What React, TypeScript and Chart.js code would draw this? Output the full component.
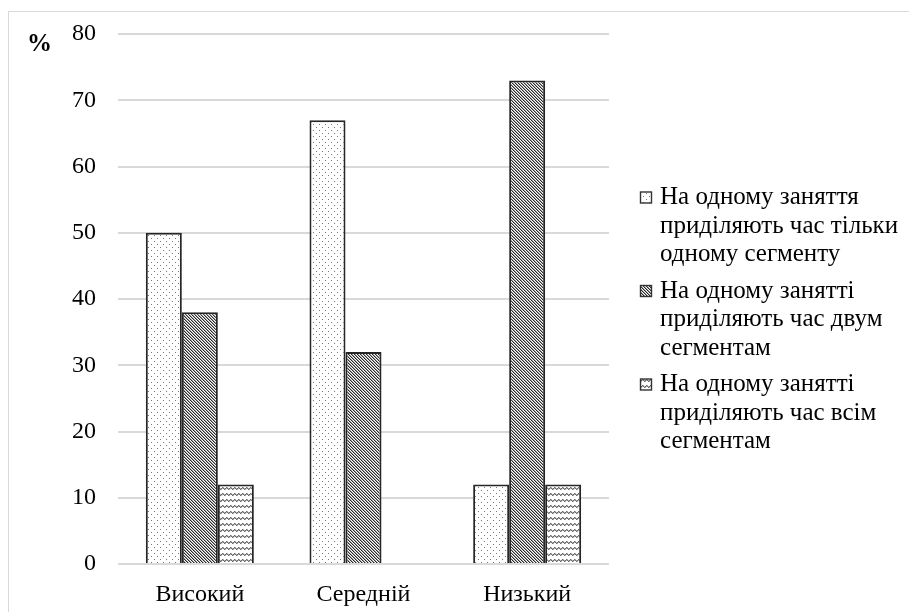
import React, { useEffect, useRef } from "react";
import { Chart, registerables } from "chart.js";

Chart.register(...registerables);

const categories = ["Високий", "Середній", "Низький"];
const seriesOneSegment = [50, 67, 12];
const seriesTwoSegments = [38, 32, 73];
const seriesAllSegments = [12, 0, 12];
const legendLabels = [
  ["На одному заняття", "приділяють час тільки", "одному сегменту"],
  ["На одному занятті", "приділяють час двум", "сегментам"],
  ["На одному занятті", "приділяють час всім", "сегментам"],
];
const yTicks = { min: 0, max: 80, step: 10 };
const yTitle = "%";

const FONT = '"Liberation Serif", "Times New Roman", serif';

function makePattern(kind: string): CanvasPattern | string {
  const c = document.createElement("canvas");
  let w = 6, h = 6;
  if (kind === "diag") { w = 3; h = 3; }
  if (kind === "wave") { w = 4; h = 6; }
  c.width = w; c.height = h;
  const g = c.getContext("2d")!;
  g.fillStyle = "#ffffff";
  g.fillRect(0, 0, w, h);
  if (kind === "dots") {
    g.fillStyle = "#7a7a7a";
    g.fillRect(1, 1, 1, 1);
    g.fillRect(4, 4, 1, 1);
  } else if (kind === "diag") {
    for (let i = 0; i < 3; i++) {
      g.fillStyle = "#2a2a2a";
      g.fillRect(i, i, 1, 1);
      g.fillStyle = "#a0a0a0";
      g.fillRect((i + 1) % 3, i, 1, 1);
    }
  } else {
    g.fillStyle = "#6a6a6a";
    const ys = [2, 1, 2, 3];
    for (let x = 0; x < 4; x++) g.fillRect(x, ys[x], 1, 1);
    g.fillStyle = "#b0b0b0";
    const ys2 = [3, 2, 1, 2];
    for (let x = 0; x < 4; x++) g.fillRect(x, ys2[x], 1, 1);
  }
  const p = g.createPattern(c, "repeat");
  return p || "#ffffff";
}

export default function App() {
  const ref = useRef<HTMLCanvasElement>(null);

  useEffect(() => {
    const canvas = ref.current!;
    const patterns = [makePattern("dots"), makePattern("diag"), makePattern("wave")];
    const seriesData = [seriesOneSegment, seriesTwoSegments, seriesAllSegments];

    const overlay = {
      id: "overlay",
      afterDraw(chart: any) {
        const ctx = chart.ctx as CanvasRenderingContext2D;
        ctx.save();
        ctx.fillStyle = "#000";
        ctx.font = `bold 25px ${FONT}`;
        ctx.textBaseline = "middle";
        ctx.textAlign = "left";
        ctx.fillText(yTitle, 18, 33);
        ctx.font = `25px ${FONT}`;
        const x0 = 631;
        const tx = 651;
        let y = 185.5;
        legendLabels.forEach((lines, i) => {
          ctx.fillStyle = patterns[i] as any;
          ctx.fillRect(x0, y - 6, 12, 12);
          ctx.strokeStyle = "#333";
          ctx.lineWidth = 1.4;
          ctx.strokeRect(x0 + 0.5, y - 5.5, 11, 11);
          ctx.fillStyle = "#000";
          lines.forEach((ln, j) => {
            ctx.fillText(ln, tx, y + j * 28.7);
          });
          y += 93.5;
        });
        ctx.restore();
      },
    };

    const chart = new Chart(canvas, {
      type: "bar",
      data: {
        labels: categories,
        datasets: seriesData.map((d, i) => ({
          label: legendLabels[i].join(" "),
          data: d,
          backgroundColor: patterns[i] as any,
          borderColor: "#262626",
          borderWidth: 2,
          borderSkipped: "start" as any,
          barPercentage: 1,
          categoryPercentage: 0.66,
        })),
      },
      options: {
        responsive: false,
        animation: false,
        layout: { padding: { top: 22, right: 300, left: 0, bottom: 0 } },
        plugins: {
          legend: { display: false },
          tooltip: { enabled: false },
        },
        scales: {
          x: {
            grid: { display: false, drawTicks: false },
            border: { display: false },
            ticks: {
              color: "#000",
              font: { family: FONT, size: 24 },
              padding: 16,
            },
            afterFit(scale: any) {
              scale.height = 48;
              scale.paddingLeft = 0;
              scale.paddingRight = 0;
            },
          },
          y: {
            min: yTicks.min,
            max: yTicks.max,
            grid: { color: "#d9d9d9", lineWidth: 2, drawTicks: false },
            border: { display: false },
            ticks: {
              stepSize: yTicks.step,
              color: "#000",
              font: { family: FONT, size: 24 },
              padding: 22,
            },
            afterFit(scale: any) {
              scale.width = 109;
              scale.paddingTop = 0;
              scale.paddingBottom = 0;
            },
          },
        },
      },
      plugins: [overlay],
    });
    return () => chart.destroy();
  }, []);

  return (
    <div
      style={{
        position: "absolute",
        left: 8,
        top: 11,
        width: 900,
        height: 600,
        borderTop: "1px solid #d9d9d9",
        borderLeft: "1px solid #d9d9d9",
        background: "#fff",
      }}
    >
      <canvas ref={ref} width={900} height={600} style={{ display: "block", width: 900, height: 600 }} />
    </div>
  );
}
